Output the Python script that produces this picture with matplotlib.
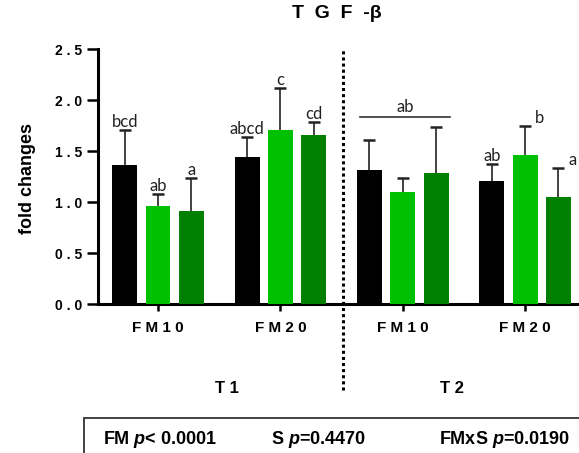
import matplotlib
matplotlib.use("Agg")
import matplotlib.pyplot as plt
import matplotlib.patches as mpatches
import matplotlib.transforms as mtransforms
import numpy as np

plt.rcParams['font.family'] = ['Liberation Sans', 'DejaVu Sans']
plt.rcParams['mathtext.fontset'] = 'custom'
plt.rcParams['mathtext.it'] = 'Liberation Sans:italic:bold'
plt.rcParams['mathtext.rm'] = 'Liberation Sans:bold'

# TGF-beta fold changes, groups: T1 FM10, T1 FM20, T2 FM10, T2 FM20
groups = ["F M 1 0", "F M 2 0", "F M 1 0", "F M 2 0"]
mean_black = [1.37, 1.44, 1.32, 1.21]
mean_light = [0.96, 1.71, 1.10, 1.46]
mean_dark = [0.91, 1.66, 1.29, 1.05]
sd_black = [0.34, 0.20, 0.29, 0.17]
sd_light = [0.12, 0.41, 0.14, 0.29]
sd_dark = [0.33, 0.13, 0.45, 0.29]

letters_black = ["bcd", "abcd", "", "ab"]
letters_light = ["ab", "c", "", "b"]
letters_dark = ["a", "cd", "", "a"]
bracket_label = "ab"

yticks = [0.0, 0.5, 1.0, 1.5, 2.0, 2.5]
stats = [("FM $p$< 0.0001", 0.1774), ("S $p$=0.4470", 0.4675), ("FMxS $p$=0.0190", 0.7587)]

colors = ["#000000", "#00c000", "#007f00"]

fig = plt.figure(figsize=(5.79, 4.53), dpi=100)
ax = fig.add_axes([0.1693, 0.3283, 0.8307, 0.5629])

x = np.arange(len(groups))
step = 0.272
width = 0.204
series = [(mean_black, sd_black, letters_black),
          (mean_light, sd_light, letters_light),
          (mean_dark, sd_dark, letters_dark)]

for k, (m, sd, lab) in enumerate(series):
    xs = x + (k - 1) * step
    ax.bar(xs, m, width, color=colors[k], zorder=3)
    # lower half of the bar hides behind the bar itself
    ax.errorbar(xs, m, yerr=sd, fmt='none', ecolor='#222222',
                elinewidth=1.2, capsize=4, capthick=1.8, zorder=2)
    for i in range(len(m)):
        if not lab[i]:
            continue
        dx = 0
        # last group: letters of green bars sit to the right of the bar
        if i == 3 and k > 0:
            dx = 10
        ax.annotate(lab[i], (xs[i], m[i] + sd[i]), xytext=(dx, 0),
                    textcoords='offset points', ha='center', va='bottom',
                    fontsize=12, family='Lato', color='#222222')

# shared letter over T2 FM10
ax.plot([1.652, 2.388], [1.84, 1.84], color='#333333', lw=1.2)
ax.text(2.02, 1.86, bracket_label, ha='center', va='bottom', fontsize=12,
        family='Lato', color='#222222')

ax.set_xlim(-0.49, 3.44)
ax.set_ylim(0, 2.5)
ax.set_yticks(yticks)
ax.set_yticklabels([" . ".join(f"{v:.1f}".split(".")) for v in yticks],
                   fontsize=10, fontweight='bold')
ax.set_xticks(x)
ax.set_xticklabels(groups, fontsize=11, fontweight='bold')

for s in ['top', 'right']:
    ax.spines[s].set_visible(False)
for s in ['left', 'bottom']:
    ax.spines[s].set_linewidth(2.2)
ax.tick_params(axis='y', length=8, width=1.8, pad=3.5)
ax.tick_params(axis='x', length=5, width=1.8, pad=7)

# dotted separator between T1 and T2
trans = mtransforms.blended_transform_factory(ax.transData, ax.transAxes)
ax.plot([1.515, 1.515], [-0.336, 1.005], transform=trans, clip_on=False,
        color='black', lw=2.2, linestyle=(0, (1, 1)), dash_capstyle='butt')

ax.text(0.56, -0.332, "T 1", transform=trans, ha='center', va='center',
        fontsize=12, fontweight='bold')
ax.text(2.40, -0.332, "T 2", transform=trans, ha='center', va='center',
        fontsize=12, fontweight='bold')

fig.text(0.5815, 0.9713, "T  G  F  -β", ha='center', va='center', fontsize=14,
         fontweight='bold')
fig.text(0.048, 0.607, "fold changes", rotation=90, ha='center', va='center',
         fontsize=13, fontweight='bold')

box = mpatches.Rectangle((0.145, -0.2), 1.0, 0.2766, transform=fig.transFigure,
                         fill=False, edgecolor='#333333', lw=1.3, clip_on=False)
fig.patches.append(box)
for txt, xpos in stats:
    fig.text(xpos, 0.0287, txt, ha='left', va='center', fontsize=13,
             fontweight='bold')

fig.savefig("out.png", dpi=100)
